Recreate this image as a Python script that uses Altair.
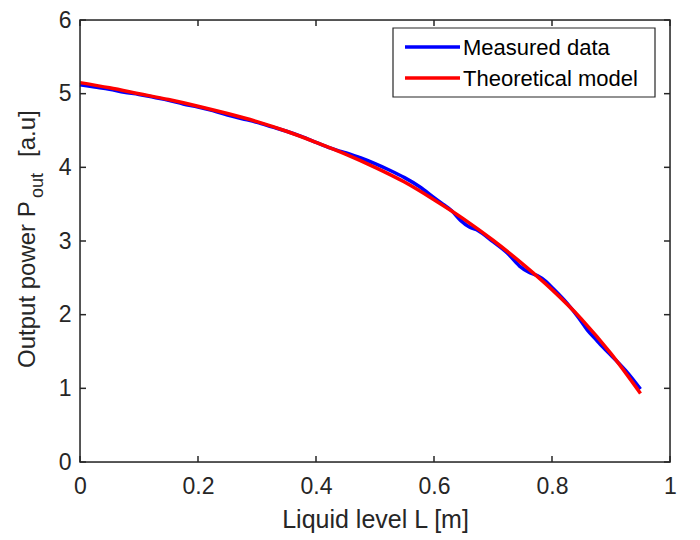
import altair as alt
import pandas as pd

# ---- data ----
L_meas = [0.0, 0.025, 0.05, 0.075, 0.1, 0.125, 0.15, 0.175, 0.2, 0.225, 0.25, 0.275,
          0.3, 0.325, 0.35, 0.375, 0.4, 0.425, 0.44, 0.45, 0.475, 0.5, 0.525, 0.55,
          0.575, 0.6, 0.615, 0.63, 0.645, 0.66, 0.675, 0.7, 0.725, 0.745, 0.76,
          0.775, 0.79, 0.8, 0.825, 0.845, 0.86, 0.875, 0.885, 0.9, 0.925, 0.95]
P_meas = [5.12, 5.09, 5.06, 5.02, 4.99, 4.95, 4.91, 4.86, 4.82, 4.77, 4.71, 4.66,
          4.61, 4.55, 4.49, 4.42, 4.34, 4.26, 4.22, 4.20, 4.13, 4.05, 3.96, 3.86,
          3.74, 3.59, 3.50, 3.41, 3.28, 3.19, 3.14, 2.99, 2.83, 2.66, 2.58,
          2.53, 2.45, 2.37, 2.16, 1.96, 1.79, 1.66, 1.57, 1.45, 1.24, 0.99]
L_model = [0.0, 0.05, 0.1, 0.15, 0.2, 0.25, 0.3, 0.35, 0.4, 0.45, 0.5, 0.55,
           0.6, 0.65, 0.7, 0.75, 0.8, 0.85, 0.9, 0.95]
P_model = [5.15, 5.08, 5.00, 4.92, 4.83, 4.73, 4.62, 4.49, 4.34, 4.18, 4.00, 3.80,
           3.56, 3.30, 3.01, 2.69, 2.34, 1.94, 1.47, 0.93]

series_names = ["Measured data", "Theoretical model"]
series_colors = ["#0000ff", "#ff0000"]
x_ticks = [0, 0.2, 0.4, 0.6, 0.8, 1]
y_ticks = [0, 1, 2, 3, 4, 5, 6]

W, H = 590, 442
FONT = "Liberation Sans"
AX = "#262626"

df = pd.concat([
    pd.DataFrame({"L": L_meas, "P": P_meas, "series": series_names[0], "o": range(len(L_meas))}),
    pd.DataFrame({"L": L_model, "P": P_model, "series": series_names[1], "o": range(len(L_model))}),
])

xscale = alt.Scale(domain=[0, 1], nice=False, zero=False)
yscale = alt.Scale(domain=[0, 6], nice=False)
cscale = alt.Scale(domain=series_names, range=series_colors)

xaxis = alt.Axis(values=x_ticks, title="Liquid level L [m]", domain=False, ticks=False, grid=False,
                 labelFont=FONT, labelFontSize=23, labelColor=AX, labelPadding=13,
                 format="~g", labelFlush=False,
                 titleFont=FONT, titleFontSize=25, titleFontWeight="normal", titleColor=AX,
                 titleY=57, titleBaseline="middle")
yaxis = alt.Axis(values=y_ticks, title=None, domain=False, ticks=False, grid=False,
                 labelFont=FONT, labelFontSize=23, labelColor=AX, labelPadding=9,
                 format="~g", labelFlush=False)

lines = alt.Chart(df).mark_line(strokeWidth=3.5, interpolate="monotone").encode(
    x=alt.X("L:Q", scale=xscale, axis=xaxis),
    y=alt.Y("P:Q", scale=yscale, axis=yaxis),
    color=alt.Color("series:N", scale=cscale, legend=None),
    order="o:Q",
)

# inward ticks on all four sides
xt = pd.DataFrame({"v": x_ticks})
yt = pd.DataFrame({"v": y_ticks})
tick_style = dict(color=AX, strokeWidth=1.5)
xt_bot = alt.Chart(xt).mark_rule(**tick_style).encode(x=alt.X("v:Q", scale=xscale, axis=xaxis), y=alt.value(H), y2=alt.value(H - 6))
xt_top = alt.Chart(xt).mark_rule(**tick_style).encode(x=alt.X("v:Q", scale=xscale, axis=xaxis), y=alt.value(0), y2=alt.value(6))
yt_l = alt.Chart(yt).mark_rule(**tick_style).encode(y=alt.Y("v:Q", scale=yscale, axis=yaxis), x=alt.value(0), x2=alt.value(6))
yt_r = alt.Chart(yt).mark_rule(**tick_style).encode(y=alt.Y("v:Q", scale=yscale, axis=yaxis), x=alt.value(W), x2=alt.value(W - 6))

# plot frame (box)
frame = alt.Chart(pd.DataFrame({"a": [0]})).mark_rect(fill=None, stroke=AX, strokeWidth=1.5).encode(
    x=alt.value(0), x2=alt.value(W), y=alt.value(0), y2=alt.value(H))

layers = [lines, xt_bot, xt_top, yt_l, yt_r, frame]

# legend (boxed, top-right)
layers.append(alt.Chart(pd.DataFrame({"a": [0]})).mark_rect(fill="white", stroke=AX, strokeWidth=1.2).encode(
    x=alt.value(313), x2=alt.value(575), y=alt.value(8), y2=alt.value(77)))
for i, (name, col) in enumerate(zip(series_names, series_colors)):
    ry = 27 + 31 * i
    row = pd.DataFrame({"series": [name]})
    layers.append(alt.Chart(row).mark_rule(strokeWidth=3.5, color=col).encode(
        x=alt.value(325), x2=alt.value(380), y=alt.value(ry)))
    layers.append(alt.Chart(row).mark_text(align="left", baseline="middle", font=FONT, fontSize=22, color="black").encode(
        x=alt.value(383), y=alt.value(ry + 1), text="series:N"))

# y axis title with subscript
layers.append(alt.Chart(pd.DataFrame({"t": ["Output power P"]})).mark_text(
    angle=270, align="left", baseline="middle", font=FONT, fontSize=24, color=AX).encode(
    text="t:N", x=alt.value(-52), y=alt.value(348)))
layers.append(alt.Chart(pd.DataFrame({"t": ["out"]})).mark_text(
    angle=270, align="left", baseline="middle", font=FONT, fontSize=18, color=AX).encode(
    text="t:N", x=alt.value(-42), y=alt.value(178)))
layers.append(alt.Chart(pd.DataFrame({"t": ["[a.u]"]})).mark_text(
    angle=270, align="left", baseline="middle", font=FONT, fontSize=24, color=AX).encode(
    text="t:N", x=alt.value(-52), y=alt.value(137)))

chart = alt.layer(*layers).properties(
    width=W, height=H,
    autosize=alt.AutoSizeParams(type="none"),
    padding={"left": 72, "top": 12, "right": 20, "bottom": 76},
).configure_view(stroke=None).configure(background="white")

chart.save("out.html", embed_options={"renderer": "svg", "actions": False})
